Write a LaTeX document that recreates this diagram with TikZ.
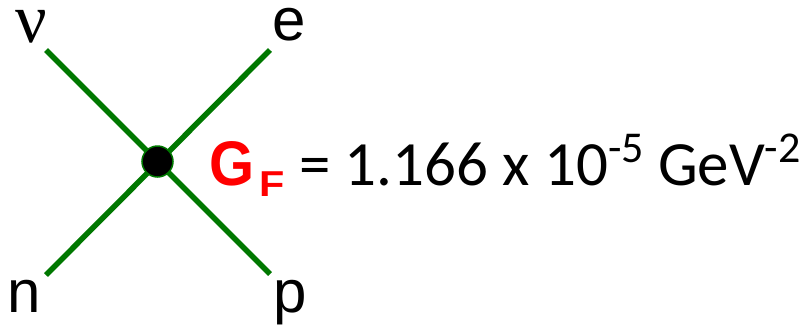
\documentclass[tikz,border=0pt]{standalone}
\usepackage{fontspec}
\setmainfont{Carlito}
\newfontfamily\arialf{Liberation Sans}
\newfontfamily\seriff{Liberation Serif}
\definecolor{lgreen}{RGB}{0,120,0}
\definecolor{gred}{RGB}{255,0,0}
\newcommand{\supr}[1]{\raisebox{23pt}{\fontsize{44}{46}\selectfont #1}}
\begin{document}
\begin{tikzpicture}[x=1pt,y=-1pt,
  leg/.style={draw=lgreen,line width=5.5pt},
  vertex/.style={circle,fill=black,draw=lgreen,line width=1.5pt,minimum size=31pt,inner sep=0pt},
  lbl/.style={inner sep=0pt,anchor=base west,text height=33pt,text depth=12pt,font=\arialf\fontsize{60}{66}\selectfont},
  eq/.style={inner sep=0pt,anchor=base west,font=\fontsize{63}{66}\selectfont}]
\useasboundingbox (0,0) rectangle (807,325);
\coordinate (a1) at (46,50);
\coordinate (a2) at (270,274);
\coordinate (b1) at (46,275);
\coordinate (b2) at (270,50);
\draw[leg] (a1) -- (a2);
\draw[leg] (b1) -- (b2);
\node[vertex] (v) at (157.5,161.5) {};
\node[inner sep=0pt,anchor=base west,text height=34pt,font=\seriff\fontsize{70}{75}\selectfont] (nu) at (15,42) {ν};
\node[lbl] (e) at (272,40) {e};
\node[lbl] (n) at (7,312) {n};
\node[lbl] (p) at (273,312) {p};
\node[inner sep=0pt,anchor=base west,text=gred,font=\arialf\bfseries\fontsize{63}{66}\selectfont] (G) at (209,185) {\scalebox{0.92}[1]{G}};
\node[inner sep=0pt,anchor=base west,text=gred,font=\arialf\bfseries\fontsize{36}{38}\selectfont] (F) at (259,196) {\scalebox{1.15}[1]{F}};
\node[eq] (eqn) at (299,185) {= 1.166 x 10\supr{-5} GeV\supr{-2}};
\end{tikzpicture}
\end{document}
